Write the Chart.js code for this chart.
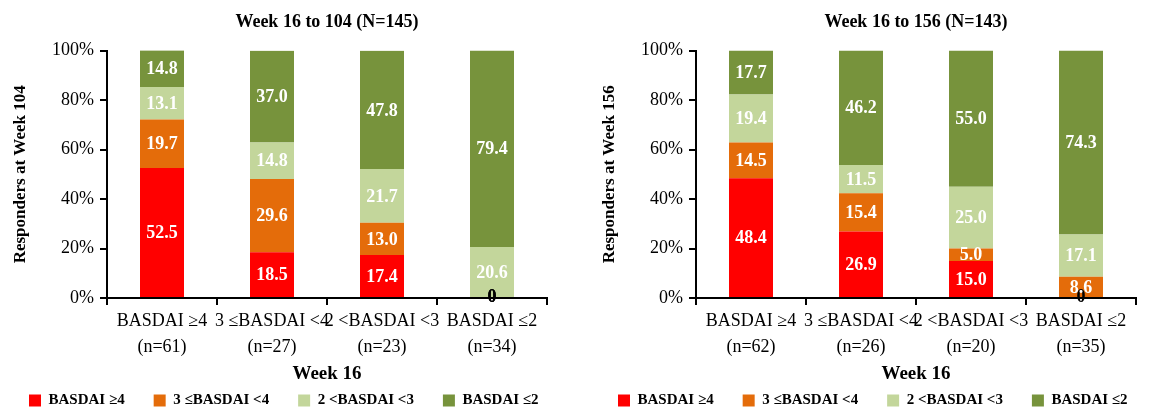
<!DOCTYPE html>
<html>
<head>
<meta charset="utf-8">
<script src="https://cdn.jsdelivr.net/npm/chart.js@4.4.1/dist/chart.umd.min.js"></script>
<style>
	html, body { margin: 0; padding: 0; background: #fff; width: 1150px; height: 410px; overflow: hidden; }
	.panel { position: absolute; top: 0; width: 575px; height: 410px; }
	#p1 { left: 0; }
	#p2 { left: 589px; }
</style>
</head>
<body>
<div class="panel" id="p1"><canvas id="c1" width="575" height="410"></canvas></div>
<div class="panel" id="p2"><canvas id="c2" width="575" height="410"></canvas></div>
<script>
// series (Week 16 groups, stacked % at the later week)
const seriesNames = ['BASDAI ≥4', '3 ≤BASDAI <4', '2 <BASDAI <3', 'BASDAI ≤2'];
const seriesColors = ['#ff0000', '#e46c0a', '#c3d69b', '#77933c'];
const yTicks = [0, 20, 40, 60, 80, 100];

// Week 16 to 104
const cats104 = [['BASDAI ≥4', '(n=61)'], ['3 ≤BASDAI <4', '(n=27)'], ['2 <BASDAI <3', '(n=23)'], ['BASDAI ≤2', '(n=34)']];
const w104High = [52.5, 18.5, 17.4, 0];
const w104Mid = [19.7, 29.6, 13.0, 0];
const w104Low = [13.1, 14.8, 21.7, 20.6];
const w104Rem = [14.8, 37.0, 47.8, 79.4];

// Week 16 to 156
const cats156 = [['BASDAI ≥4', '(n=62)'], ['3 ≤BASDAI <4', '(n=26)'], ['2 <BASDAI <3', '(n=20)'], ['BASDAI ≤2', '(n=35)']];
const w156High = [48.4, 26.9, 15.0, 0];
const w156Mid = [14.5, 15.4, 5.0, 8.6];
const w156Low = [19.4, 11.5, 25.0, 17.1];
const w156Rem = [17.7, 46.2, 55.0, 74.3];

const SERIF = '"Liberation Serif", "Times New Roman", serif';
Chart.defaults.font.family = SERIF;
Chart.defaults.color = '#000';

// value labels inside the segments, zeros in black on the axis
const barLabels = {
	id: 'barLabels',
	afterDraw(chart) {
		const ctx = chart.ctx;
		ctx.save();
		ctx.font = 'bold 18px ' + SERIF;
		ctx.textAlign = 'center';
		ctx.textBaseline = 'middle';
		chart.data.datasets.forEach((ds, i) => {
			chart.getDatasetMeta(i).data.forEach((bar, j) => {
				const v = ds.data[j];
				if (v === 0) {
					ctx.fillStyle = '#000';
					ctx.fillText('0', bar.x, bar.base - 1);
				} else {
					ctx.fillStyle = '#fff';
					ctx.fillText(v.toFixed(1), bar.x, (bar.y + bar.base) / 2 + 1);
				}
			});
		});
		ctx.restore();
	},
};

function makeChart(id, title, yTitle, cats, rows) {
	return new Chart(document.getElementById(id), {
		type: 'bar',
		data: {
			labels: cats,
			datasets: rows.map((r, i) => ({
				label: seriesNames[i],
				data: r,
				backgroundColor: seriesColors[i],
				barPercentage: 0.4,
				categoryPercentage: 1,
			})),
		},
		options: {
			responsive: false,
			animation: false,
			layout: { padding: { left: 0, right: 0, top: 0, bottom: -8 } },
			plugins: {
				title: {
					display: true,
					text: title,
					fullSize: false,
					font: { size: 18, weight: 'bold' },
					padding: { top: 12, bottom: 17 },
				},
				legend: {
					position: 'bottom',
					align: 'start',
					labels: { boxWidth: 12, boxHeight: 12, padding: 29, font: { size: 15, weight: 'bold' } },
				},
				tooltip: { enabled: false },
			},
			scales: {
				x: {
					stacked: true,
					grid: { drawOnChartArea: false, color: '#000', lineWidth: 2, tickLength: 7, z: 1 },
					border: { color: '#000', width: 2, z: 1 },
					ticks: { font: { size: 18, lineHeight: 1.45 }, padding: 3, maxRotation: 0, autoSkip: false },
					title: { display: true, text: 'Week 16', font: { size: 19, weight: 'bold' }, padding: { top: 0, bottom: -21 } },
					afterFit: (s) => { s.height = 66; },
				},
				y: {
					stacked: true,
					min: 0,
					max: 100,
					afterBuildTicks: (s) => { s.ticks = yTicks.map((v) => ({ value: v })); },
					grid: { drawOnChartArea: false, color: '#000', lineWidth: 2, tickLength: 7 },
					border: { color: '#000', width: 2 },
					ticks: { font: { size: 18 }, padding: 6, callback: (v) => v + '%' },
					title: { display: true, text: yTitle, font: { size: 17, weight: 'bold' }, padding: { top: 10, bottom: 0 } },
					afterFit: (s) => { s.width = 107; },
				},
				// empty right-hand margin so the plot ends where the reference's does
				yRight: {
					position: 'right',
					min: 0,
					max: 100,
					ticks: { display: false },
					grid: { display: false },
					border: { display: false },
					afterFit: (s) => { s.width = 28; },
				},
			},
		},
		plugins: [barLabels],
	});
}

makeChart('c1', 'Week 16 to 104 (N=145)', 'Responders at Week 104', cats104, [w104High, w104Mid, w104Low, w104Rem]);
makeChart('c2', 'Week 16 to 156 (N=143)', 'Responders at Week 156', cats156, [w156High, w156Mid, w156Low, w156Rem]);
</script>
</body>
</html>
